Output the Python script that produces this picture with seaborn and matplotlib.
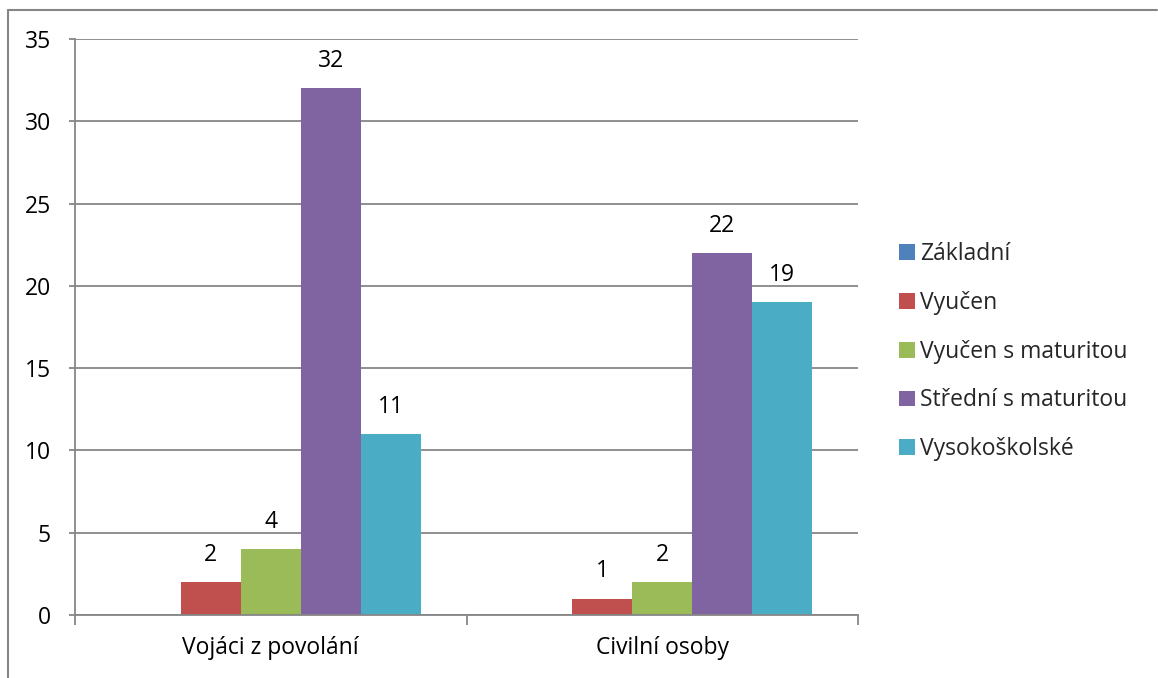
import matplotlib
matplotlib.use("Agg")
import matplotlib.pyplot as plt
from matplotlib.lines import Line2D
from matplotlib.patches import Patch
import seaborn as sns
import pandas as pd

categories = ["Vojáci z povolání", "Civilní osoby"]
series = ["Základní", "Vyučen", "Vyučen s maturitou", "Střední s maturitou", "Vysokoškolské"]
zakladni = [0, 0]
vyucen = [2, 1]
vyucen_mat = [4, 2]
stredni_mat = [32, 22]
vysokoskolske = [11, 19]
colors = ["#4F81BD", "#C0504D", "#9BBB59", "#8064A2", "#4BACC6"]
yticks = [0, 5, 10, 15, 20, 25, 30, 35]

values = [zakladni, vyucen, vyucen_mat, stredni_mat, vysokoskolske]
rows = []
for s, vals in zip(series, values):
    for c, v in zip(categories, vals):
        rows.append({"Kategorie": c, "Vzdělání": s, "Počet": v})
df = pd.DataFrame(rows)

sns.set_theme(style="white")
plt.rcParams["font.family"] = ["Open Sans", "DejaVu Sans"]

FS = 16.5
W, H = 1158, 678
fig = plt.figure(figsize=(W / 100, H / 100), dpi=100)
ax = fig.add_axes([75 / W, (H - 615) / H, (858 - 75) / W, (615 - 39) / H])

grey = "#868686"
sns.barplot(data=df, x="Kategorie", y="Počet", hue="Vzdělání", order=categories,
            hue_order=series, palette=colors, width=300 / 391.5, saturation=1,
            linewidth=0, ax=ax, legend=False, errorbar=None)

ax.set_xlim(-0.5, 1.5)
ax.set_ylim(0, 35)
ax.set_yticks(yticks)
ax.set_yticklabels([str(t) for t in yticks])
ax.yaxis.grid(True, color=grey, linewidth=1.3)
ax.set_axisbelow(True)
ax.set_xlabel("")
ax.set_ylabel("")

for side in ["top", "right"]:
    ax.spines[side].set_visible(False)
for side in ["left", "bottom"]:
    ax.spines[side].set_color(grey)
    ax.spines[side].set_linewidth(1.3)

ax.tick_params(axis="y", which="major", length=4.5, width=1.3, color=grey,
               pad=13, labelsize=FS, labelcolor="black", left=True)
ax.set_xticks([-0.5, 0.5, 1.5], minor=True)
ax.tick_params(axis="x", which="minor", length=7, width=1.3, color=grey, bottom=True)
ax.tick_params(axis="x", which="major", length=0, pad=15, labelsize=FS, labelcolor="black")

for cont in ax.containers:
    labels = [f"{b.get_height():g}" if b.get_height() > 0 else "" for b in cont]
    ax.bar_label(cont, labels=labels, padding=11, fontsize=FS, color="black")

# outer chart frame (top and left edges)
fig.add_artist(Line2D([8 / W, 1157 / W], [(H - 10) / H, (H - 10) / H],
                      transform=fig.transFigure, color=grey, linewidth=1.5))
fig.add_artist(Line2D([8 / W, 8 / W], [(H - 10) / H, 0],
                      transform=fig.transFigure, color=grey, linewidth=1.5))

handles = [Patch(facecolor=c, edgecolor="none") for c in colors]
fig.legend(handles, series, loc="upper left", bbox_to_anchor=(890 / W, (H - 233) / H),
           frameon=False, fontsize=FS, handlelength=0.68, handleheight=0.68,
           handletextpad=0.25, labelspacing=1.08, borderaxespad=0)

fig.savefig("out.png", dpi=100, facecolor="white")
